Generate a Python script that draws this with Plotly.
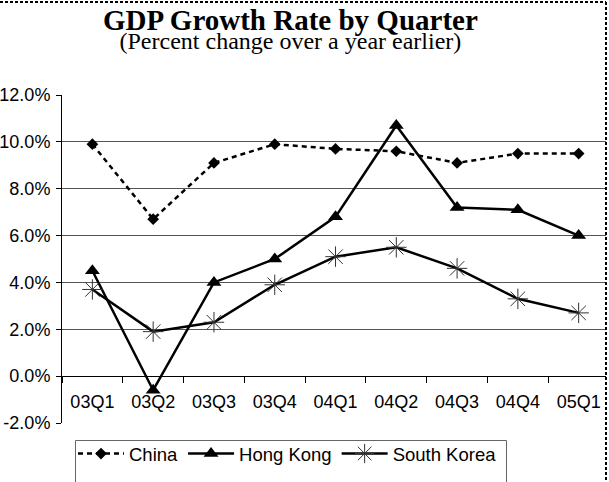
import plotly.graph_objects as go

quarters = ["03Q1", "03Q2", "03Q3", "03Q4", "04Q1", "04Q2", "04Q3", "04Q4", "05Q1"]
china = [9.9, 6.7, 9.1, 9.9, 9.7, 9.6, 9.1, 9.5, 9.5]
hong_kong = [4.5, -0.6, 4.0, 5.0, 6.8, 10.7, 7.2, 7.1, 6.0]
south_korea = [3.7, 1.9, 2.3, 3.9, 5.1, 5.5, 4.6, 3.3, 2.7]
y_ticks = [-2, 0, 2, 4, 6, 8, 10, 12]
title_text = "GDP Growth Rate by Quarter"
subtitle_text = "(Percent change over a year earlier)"

W, H = 609, 482
ML, MR, MT, MB = 62, 3, 95, 59
PW, PH = W - ML - MR, H - MT - MB


def px_x(X):
    return (X - ML) / PW


def px_y(Y):
    return (H - MB - Y) / PH


fig = go.Figure()
fig.add_trace(go.Scatter(
    x=quarters, y=china, name="China", mode="lines+markers",
    line=dict(color="black", width=2.5, dash="5px,4px"),
    marker=dict(symbol="diamond", size=9, color="black"),
))
fig.add_trace(go.Scatter(
    x=quarters, y=hong_kong, name="Hong Kong", mode="lines+markers",
    line=dict(color="black", width=2.5),
    marker=dict(symbol="triangle-up", size=13, color="black"),
))
fig.add_trace(go.Scatter(
    x=quarters, y=south_korea, name="South Korea", mode="lines+markers",
    line=dict(color="black", width=2.5),
    marker=dict(symbol="asterisk-open", size=17, color="#333333",
                line=dict(width=1, color="#333333")),
))

fig.update_layout(
    width=W, height=H,
    margin=dict(l=ML, r=MR, t=MT, b=MB, autoexpand=False),
    paper_bgcolor="white", plot_bgcolor="white",
    font=dict(family="Arial, Liberation Sans, sans-serif", size=18, color="black"),
    showlegend=True,
    legend=dict(
        orientation="h", x=px_x(73), y=px_y(435), xanchor="left", yanchor="top",
        font=dict(size=18.5, family="Arial, Liberation Sans, sans-serif"),
        borderwidth=0, bgcolor="rgba(0,0,0,0)", itemwidth=46,
    ),
    xaxis=dict(
        type="category", range=[-0.5, 8.45],
        anchor="free", position=2 / 14,
        showline=True, linecolor="black", linewidth=1,
        ticks="outside", ticklen=6, tickcolor="black", tickson="boundaries",
        showgrid=False, zeroline=False, ticklabelstandoff=9,
        tickfont=dict(size=18),
    ),
    yaxis=dict(
        range=[-2, 12], tickvals=y_ticks, ticktext=[f"{v:.1f}%" for v in y_ticks],
        showline=True, linecolor="black", linewidth=1,
        ticks="outside", ticklen=5, tickcolor="black",
        showgrid=True, gridcolor="#555555", gridwidth=1, zeroline=False,
        tickfont=dict(size=18), ticklabelstandoff=2,
    ),
    annotations=[
        dict(text=(f"<span style='font-size:29px'><b>{title_text}</b></span><br>"
                   f"<span style='font-size:24px'>{subtitle_text}</span>"),
             xref="paper", yref="paper",
             x=px_x(290), y=px_y(29), xanchor="center", yanchor="middle", showarrow=False,
             align="center",
             font=dict(family="Times New Roman, Liberation Serif, serif", size=14.4, color="black")),
    ],
    shapes=[
        # dashed outer border (top and right)
        dict(type="line", xref="paper", yref="paper", x0=px_x(-5), x1=px_x(606), y0=px_y(2), y1=px_y(2),
             line=dict(color="black", width=2, dash="3px,2px")),
        dict(type="line", xref="paper", yref="paper", x0=px_x(606), x1=px_x(606), y0=px_y(2), y1=px_y(490),
             line=dict(color="black", width=2, dash="3px,2px")),
        # legend box
        dict(type="rect", xref="paper", yref="paper", x0=px_x(75.5), x1=px_x(506.5), y0=px_y(440.5), y1=px_y(500),
             line=dict(color="#666666", width=1), fillcolor="rgba(0,0,0,0)", layer="below"),
    ],
)

fig.write_html("out.html", config={"displayModeBar": False},
               post_script="document.body.style.margin='0';document.body.style.overflow='hidden';")
